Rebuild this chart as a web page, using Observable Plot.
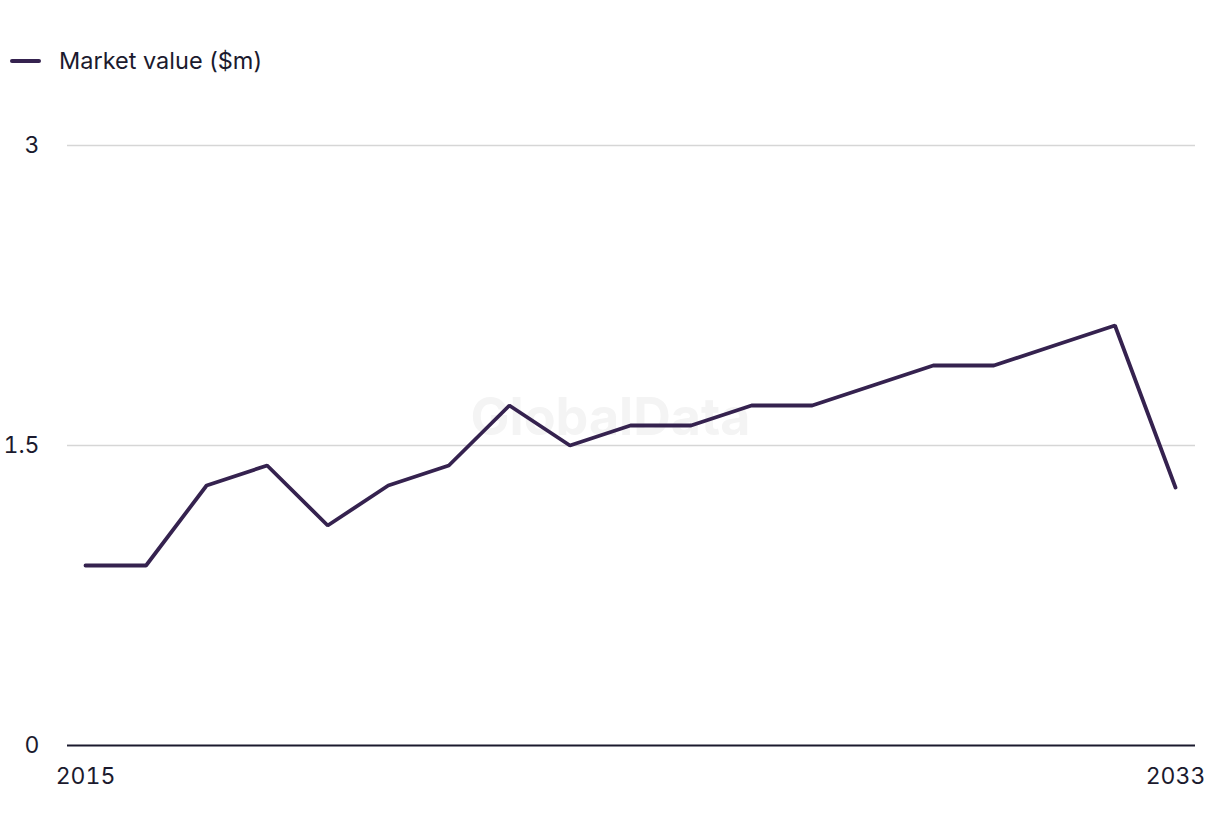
<!DOCTYPE html>
<html>
<head>
<meta charset="utf-8">
<script src="https://cdn.jsdelivr.net/npm/d3@7"></script>
<script src="https://cdn.jsdelivr.net/npm/@observablehq/plot@0.6"></script>
<style>
  html, body { margin: 0; padding: 0; background: #fff; }
  body { width: 1220px; height: 836px; overflow: hidden; font-family: Inter, "Liberation Sans", sans-serif; color: #1b1a2e; }
  #legend { height: 110px; position: relative; }
  #legend .sw { position: absolute; left: 10px; top: 59px; width: 31px; height: 4px; border-radius: 2px; background: #35224f; }
  #legend .lb { position: absolute; left: 59px; top: 46px; font-size: 23.5px; line-height: 30px; }
  #chart svg { display: block; }
</style>
</head>
<body>
<div id="legend"><div class="sw"></div><div class="lb">Market value ($m)</div></div>
<div id="chart"></div>
<script>
const years = [2015,2016,2017,2018,2019,2020,2021,2022,2023,2024,2025,2026,2027,2028,2029,2030,2031,2032,2033];
const values = [0.9,0.9,1.3,1.4,1.1,1.3,1.4,1.7,1.5,1.6,1.6,1.7,1.7,1.8,1.9,1.9,2.0,2.1,1.29];
const yTicks = [0, 1.5, 3];
const xTicks = [2015, 2033];
const seriesName = "Market value ($m)";
const data = years.map((y, i) => ({year: y, value: values[i]}));

const chart = Plot.plot({
  width: 1220,
  height: 726,
  marginTop: 35,
  marginBottom: 91,
  marginLeft: 67,
  marginRight: 25,
  style: {fontFamily: "Inter, 'Liberation Sans', sans-serif", fontSize: "23px", color: "#1b1a2e", background: "#fff"},
  x: {domain: [2015, 2033], insetLeft: 18, insetRight: 20, label: null},
  y: {domain: [0, 3], label: null},
  marks: [
    Plot.gridY(yTicks.filter(d => d > 0), {stroke: "#d6d6d6", strokeOpacity: 1, strokeWidth: 1.5}),
    Plot.text(["GlobalData"], {frameAnchor: "middle", dx: -21, dy: -27, fontSize: 52, fontWeight: "bold", fill: "#f4f4f4"}),
    Plot.axisY({ticks: yTicks, tickSize: 0, tickPadding: 28, tickFormat: d => String(d), fill: "#1b1a2e", label: null}),
    Plot.axisX({ticks: xTicks, tickSize: 0, tickPadding: 22, tickFormat: d => String(d), fill: "#1b1a2e", label: null}),
    Plot.ruleY([0], {stroke: "#1b1a2e", strokeWidth: 2}),
    Plot.lineY(data, {x: "year", y: "value", stroke: "#35224f", strokeWidth: 3.8, strokeLinejoin: "miter"})
  ]
});
document.getElementById("chart").appendChild(chart);
</script>
</body>
</html>
